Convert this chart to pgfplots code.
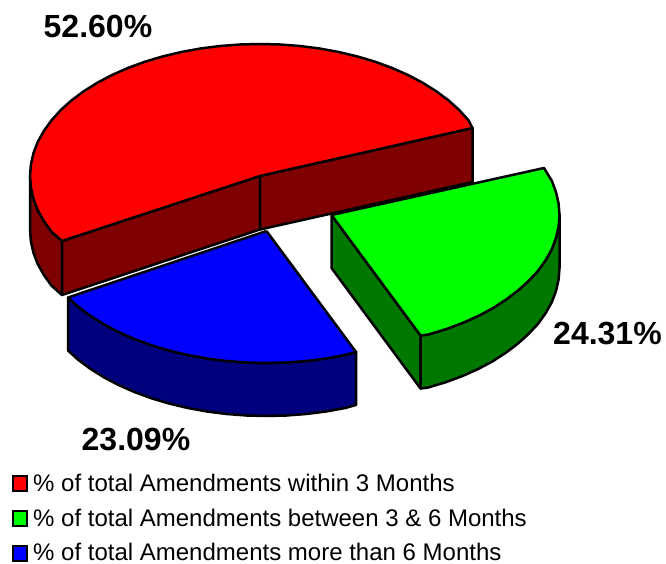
\documentclass[border=0pt]{standalone}
\usepackage{pgfplots}
\pgfplotsset{compat=1.18}
\usepackage{fontspec}
\setmainfont{Liberation Sans}
\definecolor{rt}{HTML}{FF0000}\definecolor{rd}{HTML}{7F0000}
\definecolor{gt}{HTML}{00FF00}\definecolor{gd}{HTML}{007800}
\definecolor{bt}{HTML}{0000FF}\definecolor{bd}{HTML}{00007F}
\begin{document}
\begin{tikzpicture}[x=1pt,y=1pt]
\begin{axis}[scale only axis,width=666pt,height=564pt,xmin=0,xmax=666,ymin=0,ymax=564,y dir=reverse,hide axis,clip=false,
  every axis plot/.append style={line width=2.5pt,line join=round,mark=none}]
% bounding area
\addplot[draw=none,fill=white] coordinates {(0,0)(666,0)(666,564)(0,564)(0,0)};
% red slice walls
\addplot[draw=black,fill=rd] coordinates {(30,176)(30.9,187.5)(33.5,198.9)(37.8,210.2)(43.9,221.1)(51.6,231.8)(62,241)(62,295)(51.6,285.8)(43.9,275.1)(37.8,264.2)(33.5,252.9)(30.9,241.5)(30,230)(30,176)};
\addplot[draw=black,fill=rd] coordinates {(62,241)(260,176)(260,229.5)(62,295)(62,241)};
\addplot[draw=black,fill=rd] coordinates {(260,176)(472.5,128)(472.5,182)(260,229.5)(260,176)};
% red slice top
\addplot[draw=black,fill=rt] coordinates {(260,176)(472.5,128)(468.4,120.2)(459.2,110)(448.4,100.3)(436.2,91.2)(422.6,82.7)(407.8,74.9)(391.9,67.9)(375,61.7)(357.2,56.4)(338.7,52)(319.5,48.5)(299.9,46)(280,44.5)(260,44)(240,44.5)(220.1,46)(200.5,48.5)(181.3,52)(162.8,56.4)(145,61.7)(128.1,67.9)(112.2,74.9)(97.4,82.7)(83.8,91.2)(71.6,100.3)(60.8,110)(51.6,120.2)(43.9,130.9)(37.8,141.8)(33.5,153.1)(30.9,164.5)(30,176)(30.9,187.5)(33.5,198.9)(37.8,210.2)(43.9,221.1)(51.6,231.8)(62,241)(260,176)};
% green slice walls
\addplot[draw=black,fill=gd] coordinates {(331.5,215)(420.5,335.5)(420.5,388.5)(331.5,268)(331.5,215)};
\addplot[draw=black,fill=gd] coordinates {(420.5,335.5)(427.9,334.6)(445.5,329.3)(462.3,323.1)(478,316.1)(492.7,308.3)(505.7,299.8)(517.8,290.7)(528.5,281)(538.1,270.8)(545.7,260.1)(551.8,249.2)(556,237.9)(558.6,226.5)(559.5,215)(559.5,268)(558.6,279.5)(556,290.9)(551.8,302.2)(545.7,313.1)(538.1,323.8)(528.5,334)(517.8,343.7)(505.7,352.8)(492.7,361.3)(478,369.1)(462.3,376.1)(445.5,382.3)(427.9,387.6)(420.5,388.5)(420.5,335.5)};
% green slice top
\addplot[draw=black,fill=gt] coordinates {(331.5,215)(544,168)(551.8,180.8)(556,192.1)(558.6,203.5)(559.5,215)(558.6,226.5)(556,237.9)(551.8,249.2)(545.7,260.1)(538.1,270.8)(528.5,281)(517.8,290.7)(505.7,299.8)(492.7,308.3)(478,316.1)(462.3,323.1)(445.5,329.3)(427.9,334.6)(420.5,335.5)(331.5,215)};
% blue slice wall
\addplot[draw=black,fill=bd] coordinates {(68,297.5)(78.1,306.7)(90.3,315.8)(103.9,324.3)(118.7,332.1)(134.6,339.1)(151.5,345.3)(169.3,350.6)(187.8,355)(207,358.5)(226.6,361)(246.5,362.5)(266.5,363)(286.5,362.5)(306.4,361)(326,358.5)(345.2,355)(356,352)(356,405)(345.2,408)(326,411.5)(306.4,414)(286.5,415.5)(266.5,416)(246.5,415.5)(226.6,414)(207,411.5)(187.8,408)(169.3,403.6)(151.5,398.3)(134.6,392.1)(118.7,385.1)(103.9,377.3)(90.3,368.8)(78.1,359.7)(68,350.5)(68,297.5)};
% blue slice top
\addplot[draw=black,fill=bt] coordinates {(266.5,231)(68,297.5)(78.1,306.7)(90.3,315.8)(103.9,324.3)(118.7,332.1)(134.6,339.1)(151.5,345.3)(169.3,350.6)(187.8,355)(207,358.5)(226.6,361)(246.5,362.5)(266.5,363)(286.5,362.5)(306.4,361)(326,358.5)(345.2,355)(356,352)(266.5,231)};
% legend swatches
\addplot[draw=black,fill=rt,line width=2.2pt,line join=miter] coordinates {(13,476)(27,476)(27,491)(13,491)(13,476)} --cycle;
\addplot[draw=black,fill=gt,line width=2.2pt,line join=miter] coordinates {(13,511)(27,511)(27,526)(13,526)(13,511)} --cycle;
\addplot[draw=black,fill=bt,line width=2.2pt,line join=miter] coordinates {(13,546)(27,546)(27,561)(13,561)(13,546)} --cycle;
% labels
\node[anchor=base west,inner sep=0pt,font=\bfseries\fontsize{32}{32}\selectfont] at (axis cs:43.5,38) {52.60\%};
\node[anchor=base west,inner sep=0pt,font=\bfseries\fontsize{32}{32}\selectfont] at (axis cs:553,344) {24.31\%};
\node[anchor=base west,inner sep=0pt,font=\bfseries\fontsize{32}{32}\selectfont] at (axis cs:81.5,450) {23.09\%};
\node[anchor=base west,inner sep=0pt,font=\fontsize{24}{24}\selectfont] at (axis cs:33,491) {\% of total Amendments within 3 Months};
\node[anchor=base west,inner sep=0pt,font=\fontsize{24}{24}\selectfont] at (axis cs:33,526) {\% of total Amendments between 3 \& 6 Months};
\node[anchor=base west,inner sep=0pt,font=\fontsize{24}{24}\selectfont] at (axis cs:33,560) {\% of total Amendments more than 6 Months};
\end{axis}
\end{tikzpicture}
\end{document}
